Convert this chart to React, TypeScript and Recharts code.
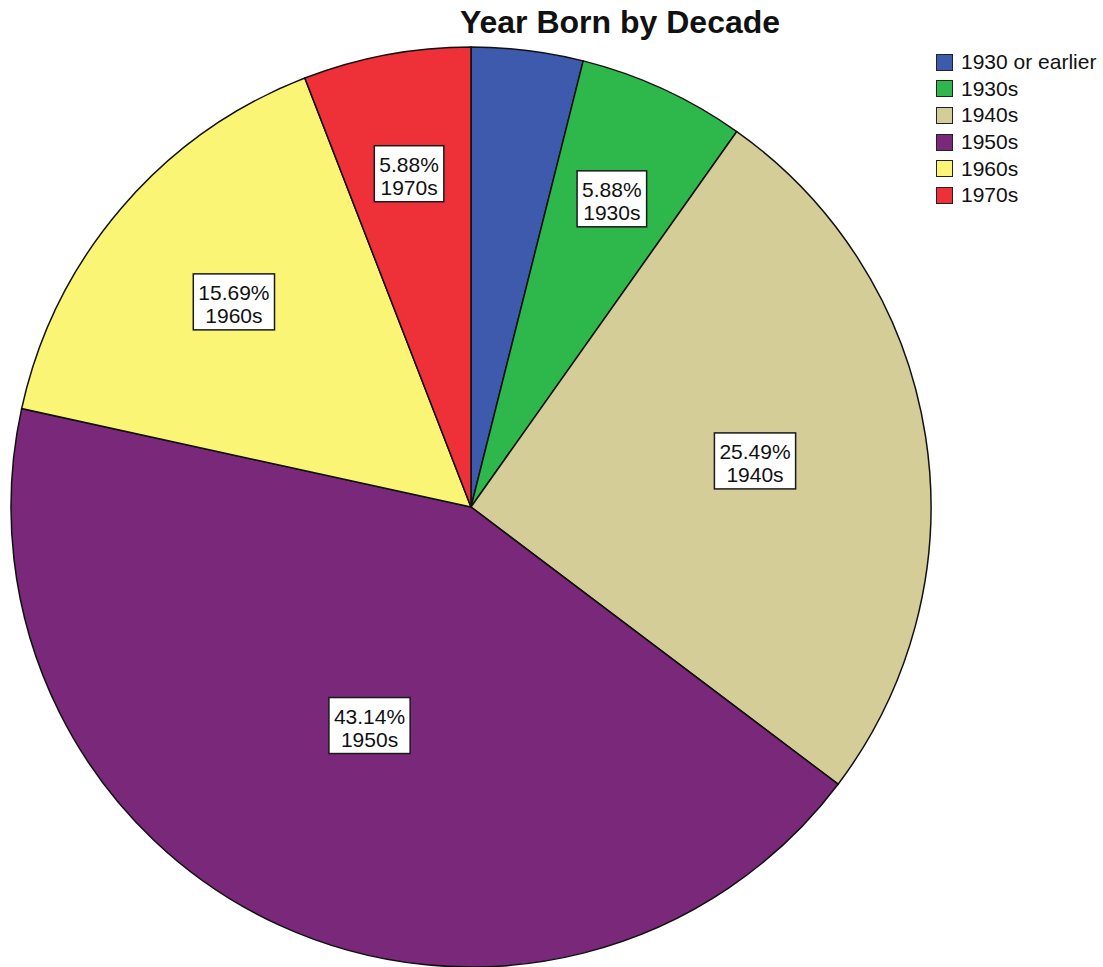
import React from 'react';
import { PieChart, Pie, Cell, Legend } from 'recharts';

const categories = ['1930 or earlier', '1930s', '1940s', '1950s', '1960s', '1970s'];
const counts = [2, 3, 13, 22, 8, 3];
const colors = ['#3D5AAC', '#2EB84B', '#D4CD98', '#79287A', '#FBF575', '#EE3038'];
const title = 'Year Born by Decade';

const data = categories.map((name, i) => ({ name, value: counts[i] }));

const FONT = '"Liberation Sans", Arial, sans-serif';
const FS = 21;

const charW: Record<string, number> = { '.': 0.278, '%': 0.889, s: 0.5, ' ': 0.278 };
const textWidth = (t: string) =>
  t.split('').reduce((a, c) => a + (charW[c] ?? 0.556), 0) * FS;

const renderLabel = (props: any) => {
  const { cx, cy, midAngle, outerRadius, percent, name } = props;
  if (percent < 0.05) return null;
  const frac = 0.765 - 0.55 * percent;
  const r = outerRadius * frac;
  const rad = (-midAngle * Math.PI) / 180;
  const x = cx + r * Math.cos(rad);
  const y = cy + r * Math.sin(rad);
  const l1 = `${(percent * 100).toFixed(2)}%`;
  const l2 = name;
  const w = Math.max(textWidth(l1), textWidth(l2)) + 10;
  return (
    <g>
      <rect x={x - w / 2} y={y - 30} width={w} height={56} fill="#fff" stroke="#1a1a1a" strokeWidth={1.5} />
      <text x={x} y={y - 4} textAnchor="middle" fontFamily={FONT} fontSize={FS} fill="#111">
        {l1}
      </text>
      <text x={x} y={y + 19} textAnchor="middle" fontFamily={FONT} fontSize={FS} fill="#111">
        {l2}
      </text>
    </g>
  );
};

const LegendContent = () => (
  <div style={{ fontFamily: FONT, fontSize: FS, color: '#111' }}>
    {categories.map((c, i) => (
      <div key={c} style={{ display: 'flex', alignItems: 'center', height: 26.6 }}>
        <div
          style={{
            width: 15,
            height: 15,
            background: colors[i],
            border: '1.5px solid #222',
            marginRight: 8,
            flex: 'none',
          }}
        />
        <span style={{ whiteSpace: 'nowrap', lineHeight: '26px' }}>{c}</span>
      </div>
    ))}
  </div>
);

export default function App() {
  return (
    <div style={{ position: 'absolute', left: 0, top: 0, width: 1103, height: 967, background: '#fff' }}>
      <div
        style={{
          position: 'absolute',
          left: 0,
          top: 3,
          width: 1240,
          textAlign: 'center',
          fontFamily: FONT,
          fontWeight: 'bold',
          fontSize: 32,
          lineHeight: '38px',
          color: '#111',
          zIndex: 2,
        }}
      >
        {title}
      </div>
      <PieChart width={1103} height={967} margin={{ top: 0, right: 0, bottom: 0, left: 0 }}>
        <Pie
          data={data}
          dataKey="value"
          nameKey="name"
          cx={471}
          cy={507}
          outerRadius={460}
          startAngle={90}
          endAngle={-270}
          stroke="#111"
          strokeWidth={1.5}
          label={renderLabel}
          labelLine={false}
          isAnimationActive={false}
        >
          {data.map((d, i) => (
            <Cell key={d.name} fill={colors[i]} />
          ))}
        </Pie>
        <Legend
          content={<LegendContent />}
          wrapperStyle={{ position: 'absolute', top: 49, left: 936, width: 167 }}
        />
      </PieChart>
    </div>
  );
}
